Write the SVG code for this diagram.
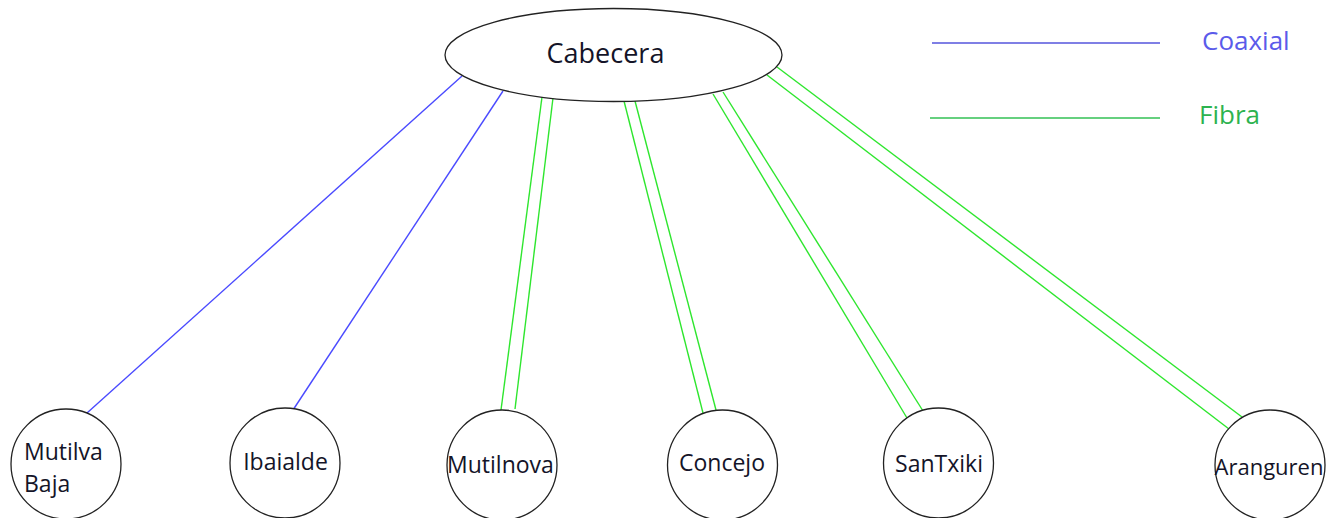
<svg xmlns="http://www.w3.org/2000/svg" width="1330" height="518" viewBox="0 0 1330 518">
<style>
.node{fill:#fff;stroke:#222;stroke-width:1.3}
.lbl{font-family:"Open Sans","Liberation Sans",sans-serif;font-size:23px;fill:#141428}
.coax{stroke:#4a4aff;stroke-width:1.4;fill:none}
.fib{stroke:#2ee62e;stroke-width:1.4;fill:none}
.leg{font-family:"Open Sans","Liberation Sans",sans-serif;font-size:26px}
</style>
<rect width="1330" height="518" fill="#fff"/>
<g id="connectors">
<line class="coax" x1="462" y1="76" x2="87" y2="413"/>
<line class="coax" x1="503" y1="91" x2="293" y2="410"/>
<line class="fib" x1="542" y1="97" x2="501" y2="410"/>
<line class="fib" x1="553" y1="98" x2="515" y2="409"/>
<line class="fib" x1="624" y1="101" x2="703" y2="413"/>
<line class="fib" x1="635" y1="101" x2="716" y2="410"/>
<line class="fib" x1="713" y1="94" x2="907" y2="418"/>
<line class="fib" x1="723" y1="92" x2="923" y2="411"/>
<line class="fib" x1="767" y1="75" x2="1229" y2="429"/>
<line class="fib" x1="777" y1="67" x2="1242" y2="417"/>
</g>
<g id="cabecera">
<ellipse class="node" cx="613.5" cy="55" rx="168.5" ry="46.5"/>
<text class="lbl" x="605.5" y="63" text-anchor="middle" style="font-size:27px">Cabecera</text>
</g>
<g id="mutilva-baja">
<circle class="node" cx="66" cy="464" r="55"/>
<text class="lbl" x="24" y="460">Mutilva</text>
<text class="lbl" x="24" y="492">Baja</text>
</g>
<g id="ibaialde">
<circle class="node" cx="285" cy="463" r="55"/>
<text class="lbl" x="285.5" y="470" text-anchor="middle">Ibaialde</text>
</g>
<g id="mutilnova">
<circle class="node" cx="502" cy="465" r="55"/>
<text class="lbl" x="500.5" y="473" text-anchor="middle">Mutilnova</text>
</g>
<g id="concejo">
<circle class="node" cx="722.5" cy="465" r="55"/>
<text class="lbl" x="722" y="471" text-anchor="middle">Concejo</text>
</g>
<g id="santxiki">
<circle class="node" cx="938.5" cy="463" r="55"/>
<text class="lbl" x="939" y="472" text-anchor="middle">SanTxiki</text>
</g>
<g id="aranguren">
<circle class="node" cx="1270" cy="465" r="55"/>
<text class="lbl" x="1269" y="475" text-anchor="middle" style="font-size:22px">Aranguren</text>
</g>
<g id="legend">
<line x1="932" y1="43" x2="1160" y2="43" stroke="#5555dd" stroke-width="1.5"/>
<line x1="930" y1="118" x2="1160" y2="118" stroke="#33c055" stroke-width="1.5"/>
<text class="leg" x="1202" y="50" fill="#5b5bea">Coaxial</text>
<text class="leg" x="1199" y="124" fill="#2db34f">Fibra</text>
</g>
</svg>
